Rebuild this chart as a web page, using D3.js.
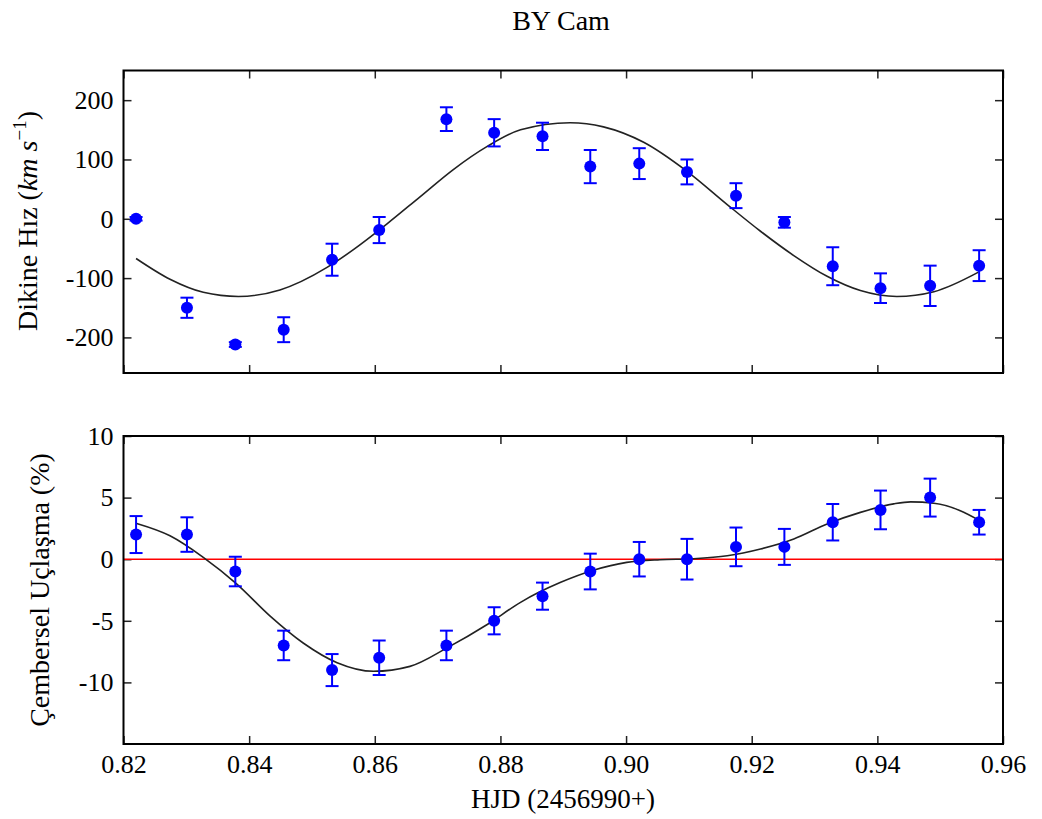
<!DOCTYPE html>
<html>
<head>
<meta charset="utf-8">
<script src="https://cdn.jsdelivr.net/npm/d3@7"></script>
<style>
    body { margin: 0; background: #fff; }
    text { font-family: "Liberation Serif", "DejaVu Serif", "Times New Roman", "Noto Serif", FreeSerif, serif; fill: #000; }
</style>
</head>
<body>
<svg id="chart" width="1042" height="819"></svg>
<script>
var SERIF = "'Liberation Serif', 'DejaVu Serif', 'Times New Roman', 'Noto Serif', FreeSerif, serif";

// Observation times (HJD - 2456990)
var hjd = [0.8220, 0.8301, 0.8378, 0.8455, 0.8532, 0.8607, 0.8714, 0.8790, 0.8867,
           0.8943, 0.9021, 0.9097, 0.9175, 0.9252, 0.9329, 0.9405, 0.9484, 0.9562];

// Radial velocity (km/s) and errors
var rvValues = [0, -150, -212, -187, -69, -19, 168, 145, 139,
                88, 93, 79, 39, -6, -80, -117, -113, -79];
var rvErrors = [3, 17, 4, 21, 27, 22, 20, 23, 23,
                28, 26, 21, 21, 9, 32, 25, 34, 26];

// Circular polarisation (%) and errors
var polValues = [2, 2, -1, -7, -9, -8, -7, -5, -3,
                 -1, 0, 0, 1, 1, 3, 4, 5, 3];
var polErrors = [1.5, 1.4, 1.2, 1.2, 1.3, 1.4, 1.2, 1.1, 1.1,
                 1.45, 1.4, 1.65, 1.57, 1.46, 1.48, 1.57, 1.54, 1.0];

// Fitted curves
var rvFitHjd = [0.8220, 0.8274, 0.8327, 0.8383, 0.8449, 0.8524, 0.8566, 0.8619, 0.8672,
                0.8725, 0.8779, 0.8832, 0.8911, 0.8964, 0.9028, 0.9097, 0.9161, 0.9214,
                0.9267, 0.9320, 0.9373, 0.9431, 0.9490, 0.9561];
var rvFitValues = [-67, -102, -124, -131, -120, -82, -52, -9, 37,
                   83, 122, 150, 162, 155, 129, 80, 24, -21,
                   -62, -97, -121, -131, -123, -90];

var polFitHjd = [0.8221, 0.8274, 0.8327, 0.8380, 0.8433, 0.8486, 0.8540, 0.8598, 0.8656,
                 0.8715, 0.8779, 0.8832, 0.8895, 0.8948, 0.9001, 0.9054, 0.9107, 0.9161,
                 0.9214, 0.9267, 0.9320, 0.9373, 0.9426, 0.9453, 0.9490, 0.9532, 0.9561];
var polFitValues = [2.9, 1.9, 0.15, -2.0, -4.6, -6.8, -8.4, -9.1, -8.7,
                    -7.2, -5.3, -3.5, -1.9, -0.9, -0.26, -0.04, 0.04, 0.28,
                    0.83, 1.64, 2.86, 3.8, 4.49, 4.65, 4.54, 3.94, 3.19];

var xTicks = [0.82, 0.84, 0.86, 0.88, 0.90, 0.92, 0.94, 0.96];
var rvTicks = [-200, -100, 0, 100, 200];
var polTicks = [-10, -5, 0, 5, 10];

var svg = d3.select("#chart");

var LEFT = 123.5, RIGHT = 1003;
var TICK_LEN = 8;
var BLUE = "#0000ff";

var x = d3.scaleLinear().domain([0.82, 0.96]).range([LEFT, RIGHT]);

// plain hyphen for negatives, like the original
function intFormat(d) { return String(d); }

function drawPanel(opts) {
    var y = d3.scaleLinear().domain(opts.domain).range([opts.bottom, opts.top]);
    var g = svg.append("g");
    var h = opts.bottom - opts.top;

    // inward ticks on all four sides
    g.append("g").attr("class", "axis")
        .attr("transform", "translate(0," + opts.bottom + ")")
        .call(d3.axisBottom(x).tickValues(xTicks).tickSize(-TICK_LEN).tickPadding(11)
            .tickFormat(opts.showX ? d3.format(".2f") : ""));
    g.append("g").attr("class", "axis")
        .attr("transform", "translate(0," + opts.top + ")")
        .call(d3.axisTop(x).tickValues(xTicks).tickSize(-TICK_LEN).tickFormat(""));
    g.append("g").attr("class", "axis")
        .attr("transform", "translate(" + LEFT + ",0)")
        .call(d3.axisLeft(y).tickValues(opts.ticks).tickSize(-TICK_LEN).tickPadding(10)
            .tickFormat(intFormat));
    g.append("g").attr("class", "axis")
        .attr("transform", "translate(" + RIGHT + ",0)")
        .call(d3.axisRight(y).tickValues(opts.ticks).tickSize(-TICK_LEN).tickFormat(""));

    g.selectAll(".axis").attr("font-family", SERIF);
    g.selectAll(".axis .domain").remove();
    g.selectAll(".axis line").attr("stroke", "#222").attr("stroke-width", 1.5);
    g.selectAll(".axis text").attr("font-size", 26)
        .attr("font-family", SERIF).attr("fill", "#000");

    if (opts.refLine !== undefined) {
        g.append("line")
            .attr("x1", LEFT).attr("x2", RIGHT)
            .attr("y1", y(opts.refLine)).attr("y2", y(opts.refLine))
            .attr("stroke", "#ff0000").attr("stroke-width", 1.5);
    }

    // fitted curve
    var line = d3.line()
        .x(function (d) { return x(d[0]); })
        .y(function (d) { return y(d[1]); })
        .curve(d3.curveMonotoneX);
    g.append("path")
        .datum(d3.zip(opts.fitX, opts.fitY))
        .attr("fill", "none")
        .attr("stroke", "#222")
        .attr("stroke-width", 1.6)
        .attr("d", line);

    // error bars
    var pts = d3.zip(hjd, opts.values, opts.errors);
    var eb = g.selectAll(".err").data(pts).enter().append("g").attr("class", "err")
        .attr("stroke", BLUE).attr("stroke-width", 2);
    eb.append("line")
        .attr("x1", function (d) { return x(d[0]); })
        .attr("x2", function (d) { return x(d[0]); })
        .attr("y1", function (d) { return y(d[1] - d[2]); })
        .attr("y2", function (d) { return y(d[1] + d[2]); });
    [-1, 1].forEach(function (s) {
        eb.append("line")
            .attr("x1", function (d) { return x(d[0]) - 6.5; })
            .attr("x2", function (d) { return x(d[0]) + 6.5; })
            .attr("y1", function (d) { return y(d[1] + s * d[2]); })
            .attr("y2", function (d) { return y(d[1] + s * d[2]); });
    });

    g.selectAll(".pt").data(pts).enter().append("circle")
        .attr("class", "pt")
        .attr("cx", function (d) { return x(d[0]); })
        .attr("cy", function (d) { return y(d[1]); })
        .attr("r", 6)
        .attr("fill", BLUE);

    // frame
    g.append("rect")
        .attr("x", LEFT).attr("y", opts.top)
        .attr("width", RIGHT - LEFT).attr("height", h)
        .attr("fill", "none").attr("stroke", "#000").attr("stroke-width", 2);

    return y;
}

drawPanel({
    top: 70.5, bottom: 373, domain: [-260, 250], ticks: rvTicks,
    values: rvValues, errors: rvErrors, fitX: rvFitHjd, fitY: rvFitValues,
    showX: false
});

drawPanel({
    top: 436, bottom: 744, domain: [-15, 10], ticks: polTicks,
    values: polValues, errors: polErrors, fitX: polFitHjd, fitY: polFitValues,
    showX: true, refLine: 0
});

// title and axis labels
svg.append("text")
    .attr("x", 561).attr("y", 30)
    .attr("text-anchor", "middle").attr("font-size", 28)
    .attr("font-family", SERIF)
    .text("BY Cam");

svg.append("text")
    .attr("x", 563).attr("y", 808)
    .attr("text-anchor", "middle").attr("font-size", 27)
    .attr("font-family", SERIF)
    .text("HJD (2456990+)");

var yl1 = svg.append("text")
    .attr("transform", "translate(37,221) rotate(-90)")
    .attr("text-anchor", "middle").attr("font-size", 28)
    .attr("font-family", SERIF);
yl1.append("tspan").text("Dikine Hız (");
yl1.append("tspan").attr("font-style", "italic").text("km s");
yl1.append("tspan").attr("font-size", 19).attr("dy", -11).text("−1");
yl1.append("tspan").attr("dy", 11).text(")");

svg.append("text")
    .attr("transform", "translate(49,590) rotate(-90)")
    .attr("text-anchor", "middle").attr("font-size", 28)
    .attr("font-family", SERIF)
    .text("Çembersel Uçlaşma (%)");
</script>
</body>
</html>
